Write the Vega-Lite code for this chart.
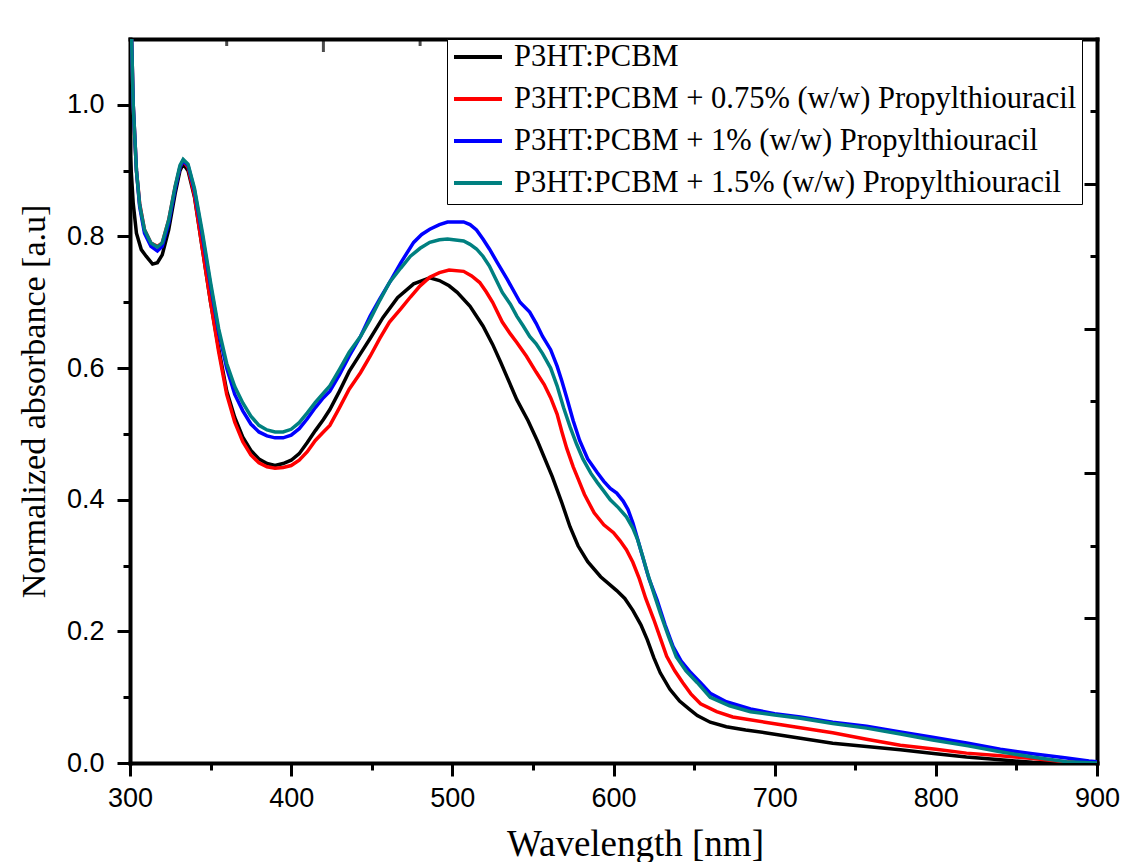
{
  "$schema": "https://vega.github.io/schema/vega-lite/v6.json",
  "width": 967,
  "height": 724,
  "autosize": {"type": "none"},
  "padding": {"left": 130, "top": 39, "right": 24, "bottom": 99},
  "background": "white",
  "config": {
    "font": "Liberation Serif",
    "view": {"stroke": null},
    "axis": {
      "grid": false,
      "domainColor": "black",
      "domainWidth": 4,
      "domainCap": "square",
      "tickColor": "black",
      "tickWidth": 3,
      "labelFont": "Liberation Sans",
      "labelFontSize": 27,
      "labelColor": "black",
      "labelFlush": false,
      "titleFont": "Liberation Serif",
      "titleFontWeight": "normal",
      "titleFontSize": 35,
      "titleColor": "black"
    },
    "legend": {
      "labelFont": "Liberation Serif"
    }
  },
  "datasets": {
    "topTicks": [
      {"wavelength": 360, "tick": "minor"},
      {"wavelength": 420, "tick": "major"},
      {"wavelength": 480, "tick": "minor"},
      {"wavelength": 540, "tick": "major"},
      {"wavelength": 600, "tick": "minor"},
      {"wavelength": 660, "tick": "major"},
      {"wavelength": 720, "tick": "minor"},
      {"wavelength": 780, "tick": "major"},
      {"wavelength": 840, "tick": "minor"}
    ]
  },
  "data": {
    "values": [
      {"sample": "P3HT:PCBM", "wavelength": 300, "absorbance": 0.93},
      {"sample": "P3HT:PCBM", "wavelength": 302, "absorbance": 0.85},
      {"sample": "P3HT:PCBM", "wavelength": 304, "absorbance": 0.805},
      {"sample": "P3HT:PCBM", "wavelength": 307, "absorbance": 0.78},
      {"sample": "P3HT:PCBM", "wavelength": 310, "absorbance": 0.77},
      {"sample": "P3HT:PCBM", "wavelength": 314, "absorbance": 0.758},
      {"sample": "P3HT:PCBM", "wavelength": 317, "absorbance": 0.76},
      {"sample": "P3HT:PCBM", "wavelength": 320, "absorbance": 0.772},
      {"sample": "P3HT:PCBM", "wavelength": 324, "absorbance": 0.81},
      {"sample": "P3HT:PCBM", "wavelength": 328, "absorbance": 0.865},
      {"sample": "P3HT:PCBM", "wavelength": 331, "absorbance": 0.9},
      {"sample": "P3HT:PCBM", "wavelength": 333, "absorbance": 0.91},
      {"sample": "P3HT:PCBM", "wavelength": 336, "absorbance": 0.9},
      {"sample": "P3HT:PCBM", "wavelength": 340, "absorbance": 0.86},
      {"sample": "P3HT:PCBM", "wavelength": 345, "absorbance": 0.78},
      {"sample": "P3HT:PCBM", "wavelength": 350, "absorbance": 0.7},
      {"sample": "P3HT:PCBM", "wavelength": 355, "absorbance": 0.63},
      {"sample": "P3HT:PCBM", "wavelength": 360, "absorbance": 0.565},
      {"sample": "P3HT:PCBM", "wavelength": 365, "absorbance": 0.525},
      {"sample": "P3HT:PCBM", "wavelength": 370, "absorbance": 0.495},
      {"sample": "P3HT:PCBM", "wavelength": 375, "absorbance": 0.475},
      {"sample": "P3HT:PCBM", "wavelength": 380, "absorbance": 0.462},
      {"sample": "P3HT:PCBM", "wavelength": 385, "absorbance": 0.455},
      {"sample": "P3HT:PCBM", "wavelength": 390, "absorbance": 0.452},
      {"sample": "P3HT:PCBM", "wavelength": 395, "absorbance": 0.455},
      {"sample": "P3HT:PCBM", "wavelength": 400, "absorbance": 0.46},
      {"sample": "P3HT:PCBM", "wavelength": 405, "absorbance": 0.47},
      {"sample": "P3HT:PCBM", "wavelength": 410, "absorbance": 0.487},
      {"sample": "P3HT:PCBM", "wavelength": 415, "absorbance": 0.505},
      {"sample": "P3HT:PCBM", "wavelength": 420, "absorbance": 0.522},
      {"sample": "P3HT:PCBM", "wavelength": 424, "absorbance": 0.537},
      {"sample": "P3HT:PCBM", "wavelength": 430, "absorbance": 0.565},
      {"sample": "P3HT:PCBM", "wavelength": 436, "absorbance": 0.595},
      {"sample": "P3HT:PCBM", "wavelength": 443, "absorbance": 0.622},
      {"sample": "P3HT:PCBM", "wavelength": 449, "absorbance": 0.645},
      {"sample": "P3HT:PCBM", "wavelength": 457, "absorbance": 0.677},
      {"sample": "P3HT:PCBM", "wavelength": 466, "absorbance": 0.707},
      {"sample": "P3HT:PCBM", "wavelength": 476, "absorbance": 0.728},
      {"sample": "P3HT:PCBM", "wavelength": 486, "absorbance": 0.737},
      {"sample": "P3HT:PCBM", "wavelength": 492, "absorbance": 0.733},
      {"sample": "P3HT:PCBM", "wavelength": 498, "absorbance": 0.725},
      {"sample": "P3HT:PCBM", "wavelength": 503, "absorbance": 0.715},
      {"sample": "P3HT:PCBM", "wavelength": 511, "absorbance": 0.694},
      {"sample": "P3HT:PCBM", "wavelength": 519, "absorbance": 0.664},
      {"sample": "P3HT:PCBM", "wavelength": 525, "absorbance": 0.636},
      {"sample": "P3HT:PCBM", "wavelength": 530, "absorbance": 0.609},
      {"sample": "P3HT:PCBM", "wavelength": 540, "absorbance": 0.552},
      {"sample": "P3HT:PCBM", "wavelength": 547, "absorbance": 0.52},
      {"sample": "P3HT:PCBM", "wavelength": 553, "absorbance": 0.488},
      {"sample": "P3HT:PCBM", "wavelength": 562, "absorbance": 0.435},
      {"sample": "P3HT:PCBM", "wavelength": 568, "absorbance": 0.395},
      {"sample": "P3HT:PCBM", "wavelength": 573, "absorbance": 0.359},
      {"sample": "P3HT:PCBM", "wavelength": 578, "absorbance": 0.33},
      {"sample": "P3HT:PCBM", "wavelength": 584, "absorbance": 0.306},
      {"sample": "P3HT:PCBM", "wavelength": 592, "absorbance": 0.283},
      {"sample": "P3HT:PCBM", "wavelength": 602, "absorbance": 0.262},
      {"sample": "P3HT:PCBM", "wavelength": 607, "absorbance": 0.25},
      {"sample": "P3HT:PCBM", "wavelength": 612, "absorbance": 0.232},
      {"sample": "P3HT:PCBM", "wavelength": 617, "absorbance": 0.21},
      {"sample": "P3HT:PCBM", "wavelength": 621, "absorbance": 0.187},
      {"sample": "P3HT:PCBM", "wavelength": 625, "absorbance": 0.16},
      {"sample": "P3HT:PCBM", "wavelength": 629, "absorbance": 0.137},
      {"sample": "P3HT:PCBM", "wavelength": 635, "absorbance": 0.112},
      {"sample": "P3HT:PCBM", "wavelength": 641, "absorbance": 0.094},
      {"sample": "P3HT:PCBM", "wavelength": 647, "absorbance": 0.082},
      {"sample": "P3HT:PCBM", "wavelength": 652, "absorbance": 0.072},
      {"sample": "P3HT:PCBM", "wavelength": 660, "absorbance": 0.062},
      {"sample": "P3HT:PCBM", "wavelength": 670, "absorbance": 0.055},
      {"sample": "P3HT:PCBM", "wavelength": 682, "absorbance": 0.05},
      {"sample": "P3HT:PCBM", "wavelength": 694, "absorbance": 0.046},
      {"sample": "P3HT:PCBM", "wavelength": 715, "absorbance": 0.038},
      {"sample": "P3HT:PCBM", "wavelength": 736, "absorbance": 0.03},
      {"sample": "P3HT:PCBM", "wavelength": 757, "absorbance": 0.025},
      {"sample": "P3HT:PCBM", "wavelength": 778, "absorbance": 0.02},
      {"sample": "P3HT:PCBM", "wavelength": 800, "absorbance": 0.014},
      {"sample": "P3HT:PCBM", "wavelength": 819, "absorbance": 0.009},
      {"sample": "P3HT:PCBM", "wavelength": 840, "absorbance": 0.005},
      {"sample": "P3HT:PCBM", "wavelength": 860, "absorbance": 0.001},
      {"sample": "P3HT:PCBM", "wavelength": 880, "absorbance": 0},
      {"sample": "P3HT:PCBM", "wavelength": 900, "absorbance": 0},

      {"sample": "P3HT:PCBM + 0.75% (w/w) Propylthiouracil", "wavelength": 300, "absorbance": 1.2},
      {"sample": "P3HT:PCBM + 0.75% (w/w) Propylthiouracil", "wavelength": 302, "absorbance": 1.0},
      {"sample": "P3HT:PCBM + 0.75% (w/w) Propylthiouracil", "wavelength": 304, "absorbance": 0.9},
      {"sample": "P3HT:PCBM + 0.75% (w/w) Propylthiouracil", "wavelength": 306, "absorbance": 0.85},
      {"sample": "P3HT:PCBM + 0.75% (w/w) Propylthiouracil", "wavelength": 309, "absorbance": 0.81},
      {"sample": "P3HT:PCBM + 0.75% (w/w) Propylthiouracil", "wavelength": 313, "absorbance": 0.79},
      {"sample": "P3HT:PCBM + 0.75% (w/w) Propylthiouracil", "wavelength": 317, "absorbance": 0.785},
      {"sample": "P3HT:PCBM + 0.75% (w/w) Propylthiouracil", "wavelength": 320, "absorbance": 0.79},
      {"sample": "P3HT:PCBM + 0.75% (w/w) Propylthiouracil", "wavelength": 324, "absorbance": 0.825},
      {"sample": "P3HT:PCBM + 0.75% (w/w) Propylthiouracil", "wavelength": 328, "absorbance": 0.875},
      {"sample": "P3HT:PCBM + 0.75% (w/w) Propylthiouracil", "wavelength": 331, "absorbance": 0.905},
      {"sample": "P3HT:PCBM + 0.75% (w/w) Propylthiouracil", "wavelength": 333, "absorbance": 0.915},
      {"sample": "P3HT:PCBM + 0.75% (w/w) Propylthiouracil", "wavelength": 336, "absorbance": 0.905},
      {"sample": "P3HT:PCBM + 0.75% (w/w) Propylthiouracil", "wavelength": 340, "absorbance": 0.862},
      {"sample": "P3HT:PCBM + 0.75% (w/w) Propylthiouracil", "wavelength": 345, "absorbance": 0.78},
      {"sample": "P3HT:PCBM + 0.75% (w/w) Propylthiouracil", "wavelength": 350, "absorbance": 0.7},
      {"sample": "P3HT:PCBM + 0.75% (w/w) Propylthiouracil", "wavelength": 355, "absorbance": 0.625},
      {"sample": "P3HT:PCBM + 0.75% (w/w) Propylthiouracil", "wavelength": 360, "absorbance": 0.56},
      {"sample": "P3HT:PCBM + 0.75% (w/w) Propylthiouracil", "wavelength": 365, "absorbance": 0.518},
      {"sample": "P3HT:PCBM + 0.75% (w/w) Propylthiouracil", "wavelength": 370, "absorbance": 0.488},
      {"sample": "P3HT:PCBM + 0.75% (w/w) Propylthiouracil", "wavelength": 375, "absorbance": 0.468},
      {"sample": "P3HT:PCBM + 0.75% (w/w) Propylthiouracil", "wavelength": 380, "absorbance": 0.456},
      {"sample": "P3HT:PCBM + 0.75% (w/w) Propylthiouracil", "wavelength": 385, "absorbance": 0.45},
      {"sample": "P3HT:PCBM + 0.75% (w/w) Propylthiouracil", "wavelength": 390, "absorbance": 0.448},
      {"sample": "P3HT:PCBM + 0.75% (w/w) Propylthiouracil", "wavelength": 395, "absorbance": 0.449},
      {"sample": "P3HT:PCBM + 0.75% (w/w) Propylthiouracil", "wavelength": 400, "absorbance": 0.452},
      {"sample": "P3HT:PCBM + 0.75% (w/w) Propylthiouracil", "wavelength": 405, "absorbance": 0.46},
      {"sample": "P3HT:PCBM + 0.75% (w/w) Propylthiouracil", "wavelength": 410, "absorbance": 0.473},
      {"sample": "P3HT:PCBM + 0.75% (w/w) Propylthiouracil", "wavelength": 415, "absorbance": 0.49},
      {"sample": "P3HT:PCBM + 0.75% (w/w) Propylthiouracil", "wavelength": 420, "absorbance": 0.503},
      {"sample": "P3HT:PCBM + 0.75% (w/w) Propylthiouracil", "wavelength": 424, "absorbance": 0.513},
      {"sample": "P3HT:PCBM + 0.75% (w/w) Propylthiouracil", "wavelength": 430, "absorbance": 0.54},
      {"sample": "P3HT:PCBM + 0.75% (w/w) Propylthiouracil", "wavelength": 436, "absorbance": 0.568},
      {"sample": "P3HT:PCBM + 0.75% (w/w) Propylthiouracil", "wavelength": 443, "absorbance": 0.593},
      {"sample": "P3HT:PCBM + 0.75% (w/w) Propylthiouracil", "wavelength": 449, "absorbance": 0.618},
      {"sample": "P3HT:PCBM + 0.75% (w/w) Propylthiouracil", "wavelength": 455, "absorbance": 0.645},
      {"sample": "P3HT:PCBM + 0.75% (w/w) Propylthiouracil", "wavelength": 461, "absorbance": 0.67},
      {"sample": "P3HT:PCBM + 0.75% (w/w) Propylthiouracil", "wavelength": 468, "absorbance": 0.69},
      {"sample": "P3HT:PCBM + 0.75% (w/w) Propylthiouracil", "wavelength": 474, "absorbance": 0.708},
      {"sample": "P3HT:PCBM + 0.75% (w/w) Propylthiouracil", "wavelength": 480, "absorbance": 0.725},
      {"sample": "P3HT:PCBM + 0.75% (w/w) Propylthiouracil", "wavelength": 486, "absorbance": 0.738},
      {"sample": "P3HT:PCBM + 0.75% (w/w) Propylthiouracil", "wavelength": 492, "absorbance": 0.745},
      {"sample": "P3HT:PCBM + 0.75% (w/w) Propylthiouracil", "wavelength": 498, "absorbance": 0.749},
      {"sample": "P3HT:PCBM + 0.75% (w/w) Propylthiouracil", "wavelength": 507, "absorbance": 0.747},
      {"sample": "P3HT:PCBM + 0.75% (w/w) Propylthiouracil", "wavelength": 512, "absorbance": 0.74},
      {"sample": "P3HT:PCBM + 0.75% (w/w) Propylthiouracil", "wavelength": 517, "absorbance": 0.73},
      {"sample": "P3HT:PCBM + 0.75% (w/w) Propylthiouracil", "wavelength": 521, "absorbance": 0.716},
      {"sample": "P3HT:PCBM + 0.75% (w/w) Propylthiouracil", "wavelength": 525, "absorbance": 0.7},
      {"sample": "P3HT:PCBM + 0.75% (w/w) Propylthiouracil", "wavelength": 531, "absorbance": 0.67},
      {"sample": "P3HT:PCBM + 0.75% (w/w) Propylthiouracil", "wavelength": 536, "absorbance": 0.652},
      {"sample": "P3HT:PCBM + 0.75% (w/w) Propylthiouracil", "wavelength": 540, "absorbance": 0.639},
      {"sample": "P3HT:PCBM + 0.75% (w/w) Propylthiouracil", "wavelength": 546, "absorbance": 0.618},
      {"sample": "P3HT:PCBM + 0.75% (w/w) Propylthiouracil", "wavelength": 552, "absorbance": 0.594},
      {"sample": "P3HT:PCBM + 0.75% (w/w) Propylthiouracil", "wavelength": 557, "absorbance": 0.575},
      {"sample": "P3HT:PCBM + 0.75% (w/w) Propylthiouracil", "wavelength": 561, "absorbance": 0.555},
      {"sample": "P3HT:PCBM + 0.75% (w/w) Propylthiouracil", "wavelength": 565, "absorbance": 0.53},
      {"sample": "P3HT:PCBM + 0.75% (w/w) Propylthiouracil", "wavelength": 568, "absorbance": 0.503},
      {"sample": "P3HT:PCBM + 0.75% (w/w) Propylthiouracil", "wavelength": 571, "absorbance": 0.478},
      {"sample": "P3HT:PCBM + 0.75% (w/w) Propylthiouracil", "wavelength": 575, "absorbance": 0.45},
      {"sample": "P3HT:PCBM + 0.75% (w/w) Propylthiouracil", "wavelength": 578, "absorbance": 0.432},
      {"sample": "P3HT:PCBM + 0.75% (w/w) Propylthiouracil", "wavelength": 582, "absorbance": 0.408},
      {"sample": "P3HT:PCBM + 0.75% (w/w) Propylthiouracil", "wavelength": 588, "absorbance": 0.38},
      {"sample": "P3HT:PCBM + 0.75% (w/w) Propylthiouracil", "wavelength": 594, "absorbance": 0.362},
      {"sample": "P3HT:PCBM + 0.75% (w/w) Propylthiouracil", "wavelength": 600, "absorbance": 0.35},
      {"sample": "P3HT:PCBM + 0.75% (w/w) Propylthiouracil", "wavelength": 604, "absorbance": 0.338},
      {"sample": "P3HT:PCBM + 0.75% (w/w) Propylthiouracil", "wavelength": 608, "absorbance": 0.324},
      {"sample": "P3HT:PCBM + 0.75% (w/w) Propylthiouracil", "wavelength": 612, "absorbance": 0.305},
      {"sample": "P3HT:PCBM + 0.75% (w/w) Propylthiouracil", "wavelength": 616, "absorbance": 0.28},
      {"sample": "P3HT:PCBM + 0.75% (w/w) Propylthiouracil", "wavelength": 620, "absorbance": 0.25},
      {"sample": "P3HT:PCBM + 0.75% (w/w) Propylthiouracil", "wavelength": 625, "absorbance": 0.218},
      {"sample": "P3HT:PCBM + 0.75% (w/w) Propylthiouracil", "wavelength": 629, "absorbance": 0.19},
      {"sample": "P3HT:PCBM + 0.75% (w/w) Propylthiouracil", "wavelength": 633, "absorbance": 0.162},
      {"sample": "P3HT:PCBM + 0.75% (w/w) Propylthiouracil", "wavelength": 638, "absorbance": 0.14},
      {"sample": "P3HT:PCBM + 0.75% (w/w) Propylthiouracil", "wavelength": 643, "absorbance": 0.122},
      {"sample": "P3HT:PCBM + 0.75% (w/w) Propylthiouracil", "wavelength": 648, "absorbance": 0.105},
      {"sample": "P3HT:PCBM + 0.75% (w/w) Propylthiouracil", "wavelength": 654, "absorbance": 0.09},
      {"sample": "P3HT:PCBM + 0.75% (w/w) Propylthiouracil", "wavelength": 664, "absorbance": 0.078},
      {"sample": "P3HT:PCBM + 0.75% (w/w) Propylthiouracil", "wavelength": 674, "absorbance": 0.07},
      {"sample": "P3HT:PCBM + 0.75% (w/w) Propylthiouracil", "wavelength": 694, "absorbance": 0.062},
      {"sample": "P3HT:PCBM + 0.75% (w/w) Propylthiouracil", "wavelength": 715, "absorbance": 0.054},
      {"sample": "P3HT:PCBM + 0.75% (w/w) Propylthiouracil", "wavelength": 736, "absorbance": 0.046},
      {"sample": "P3HT:PCBM + 0.75% (w/w) Propylthiouracil", "wavelength": 757, "absorbance": 0.036},
      {"sample": "P3HT:PCBM + 0.75% (w/w) Propylthiouracil", "wavelength": 778, "absorbance": 0.027},
      {"sample": "P3HT:PCBM + 0.75% (w/w) Propylthiouracil", "wavelength": 800, "absorbance": 0.021},
      {"sample": "P3HT:PCBM + 0.75% (w/w) Propylthiouracil", "wavelength": 819, "absorbance": 0.015},
      {"sample": "P3HT:PCBM + 0.75% (w/w) Propylthiouracil", "wavelength": 840, "absorbance": 0.011},
      {"sample": "P3HT:PCBM + 0.75% (w/w) Propylthiouracil", "wavelength": 860, "absorbance": 0.007},
      {"sample": "P3HT:PCBM + 0.75% (w/w) Propylthiouracil", "wavelength": 880, "absorbance": 0.002},
      {"sample": "P3HT:PCBM + 0.75% (w/w) Propylthiouracil", "wavelength": 900, "absorbance": 0},

      {"sample": "P3HT:PCBM + 1% (w/w) Propylthiouracil", "wavelength": 300, "absorbance": 1.2},
      {"sample": "P3HT:PCBM + 1% (w/w) Propylthiouracil", "wavelength": 302, "absorbance": 1.0},
      {"sample": "P3HT:PCBM + 1% (w/w) Propylthiouracil", "wavelength": 304, "absorbance": 0.9},
      {"sample": "P3HT:PCBM + 1% (w/w) Propylthiouracil", "wavelength": 306, "absorbance": 0.845},
      {"sample": "P3HT:PCBM + 1% (w/w) Propylthiouracil", "wavelength": 309, "absorbance": 0.805},
      {"sample": "P3HT:PCBM + 1% (w/w) Propylthiouracil", "wavelength": 313, "absorbance": 0.785},
      {"sample": "P3HT:PCBM + 1% (w/w) Propylthiouracil", "wavelength": 317, "absorbance": 0.778},
      {"sample": "P3HT:PCBM + 1% (w/w) Propylthiouracil", "wavelength": 320, "absorbance": 0.785},
      {"sample": "P3HT:PCBM + 1% (w/w) Propylthiouracil", "wavelength": 324, "absorbance": 0.82},
      {"sample": "P3HT:PCBM + 1% (w/w) Propylthiouracil", "wavelength": 328, "absorbance": 0.872},
      {"sample": "P3HT:PCBM + 1% (w/w) Propylthiouracil", "wavelength": 331, "absorbance": 0.905},
      {"sample": "P3HT:PCBM + 1% (w/w) Propylthiouracil", "wavelength": 333, "absorbance": 0.915},
      {"sample": "P3HT:PCBM + 1% (w/w) Propylthiouracil", "wavelength": 336, "absorbance": 0.908},
      {"sample": "P3HT:PCBM + 1% (w/w) Propylthiouracil", "wavelength": 340, "absorbance": 0.87},
      {"sample": "P3HT:PCBM + 1% (w/w) Propylthiouracil", "wavelength": 345, "absorbance": 0.8},
      {"sample": "P3HT:PCBM + 1% (w/w) Propylthiouracil", "wavelength": 350, "absorbance": 0.725},
      {"sample": "P3HT:PCBM + 1% (w/w) Propylthiouracil", "wavelength": 355, "absorbance": 0.655},
      {"sample": "P3HT:PCBM + 1% (w/w) Propylthiouracil", "wavelength": 360, "absorbance": 0.6},
      {"sample": "P3HT:PCBM + 1% (w/w) Propylthiouracil", "wavelength": 365, "absorbance": 0.56},
      {"sample": "P3HT:PCBM + 1% (w/w) Propylthiouracil", "wavelength": 370, "absorbance": 0.535},
      {"sample": "P3HT:PCBM + 1% (w/w) Propylthiouracil", "wavelength": 375, "absorbance": 0.515},
      {"sample": "P3HT:PCBM + 1% (w/w) Propylthiouracil", "wavelength": 380, "absorbance": 0.503},
      {"sample": "P3HT:PCBM + 1% (w/w) Propylthiouracil", "wavelength": 385, "absorbance": 0.497},
      {"sample": "P3HT:PCBM + 1% (w/w) Propylthiouracil", "wavelength": 390, "absorbance": 0.494},
      {"sample": "P3HT:PCBM + 1% (w/w) Propylthiouracil", "wavelength": 395, "absorbance": 0.494},
      {"sample": "P3HT:PCBM + 1% (w/w) Propylthiouracil", "wavelength": 400, "absorbance": 0.498},
      {"sample": "P3HT:PCBM + 1% (w/w) Propylthiouracil", "wavelength": 405, "absorbance": 0.508},
      {"sample": "P3HT:PCBM + 1% (w/w) Propylthiouracil", "wavelength": 410, "absorbance": 0.523},
      {"sample": "P3HT:PCBM + 1% (w/w) Propylthiouracil", "wavelength": 415, "absorbance": 0.54},
      {"sample": "P3HT:PCBM + 1% (w/w) Propylthiouracil", "wavelength": 420, "absorbance": 0.555},
      {"sample": "P3HT:PCBM + 1% (w/w) Propylthiouracil", "wavelength": 424, "absorbance": 0.565},
      {"sample": "P3HT:PCBM + 1% (w/w) Propylthiouracil", "wavelength": 430, "absorbance": 0.59},
      {"sample": "P3HT:PCBM + 1% (w/w) Propylthiouracil", "wavelength": 436, "absorbance": 0.618},
      {"sample": "P3HT:PCBM + 1% (w/w) Propylthiouracil", "wavelength": 443, "absorbance": 0.648},
      {"sample": "P3HT:PCBM + 1% (w/w) Propylthiouracil", "wavelength": 449, "absorbance": 0.679},
      {"sample": "P3HT:PCBM + 1% (w/w) Propylthiouracil", "wavelength": 455, "absorbance": 0.705},
      {"sample": "P3HT:PCBM + 1% (w/w) Propylthiouracil", "wavelength": 461, "absorbance": 0.73},
      {"sample": "P3HT:PCBM + 1% (w/w) Propylthiouracil", "wavelength": 468, "absorbance": 0.76},
      {"sample": "P3HT:PCBM + 1% (w/w) Propylthiouracil", "wavelength": 476, "absorbance": 0.791},
      {"sample": "P3HT:PCBM + 1% (w/w) Propylthiouracil", "wavelength": 481, "absorbance": 0.803},
      {"sample": "P3HT:PCBM + 1% (w/w) Propylthiouracil", "wavelength": 486, "absorbance": 0.811},
      {"sample": "P3HT:PCBM + 1% (w/w) Propylthiouracil", "wavelength": 492, "absorbance": 0.818},
      {"sample": "P3HT:PCBM + 1% (w/w) Propylthiouracil", "wavelength": 497, "absorbance": 0.822},
      {"sample": "P3HT:PCBM + 1% (w/w) Propylthiouracil", "wavelength": 507, "absorbance": 0.822},
      {"sample": "P3HT:PCBM + 1% (w/w) Propylthiouracil", "wavelength": 511, "absorbance": 0.818},
      {"sample": "P3HT:PCBM + 1% (w/w) Propylthiouracil", "wavelength": 515, "absorbance": 0.81},
      {"sample": "P3HT:PCBM + 1% (w/w) Propylthiouracil", "wavelength": 519, "absorbance": 0.796},
      {"sample": "P3HT:PCBM + 1% (w/w) Propylthiouracil", "wavelength": 523, "absorbance": 0.781},
      {"sample": "P3HT:PCBM + 1% (w/w) Propylthiouracil", "wavelength": 528, "absorbance": 0.76},
      {"sample": "P3HT:PCBM + 1% (w/w) Propylthiouracil", "wavelength": 534, "absorbance": 0.735},
      {"sample": "P3HT:PCBM + 1% (w/w) Propylthiouracil", "wavelength": 542, "absorbance": 0.7},
      {"sample": "P3HT:PCBM + 1% (w/w) Propylthiouracil", "wavelength": 548, "absorbance": 0.685},
      {"sample": "P3HT:PCBM + 1% (w/w) Propylthiouracil", "wavelength": 552, "absorbance": 0.668},
      {"sample": "P3HT:PCBM + 1% (w/w) Propylthiouracil", "wavelength": 556, "absorbance": 0.648},
      {"sample": "P3HT:PCBM + 1% (w/w) Propylthiouracil", "wavelength": 561, "absorbance": 0.628},
      {"sample": "P3HT:PCBM + 1% (w/w) Propylthiouracil", "wavelength": 565, "absorbance": 0.603},
      {"sample": "P3HT:PCBM + 1% (w/w) Propylthiouracil", "wavelength": 568, "absorbance": 0.58},
      {"sample": "P3HT:PCBM + 1% (w/w) Propylthiouracil", "wavelength": 571, "absorbance": 0.555},
      {"sample": "P3HT:PCBM + 1% (w/w) Propylthiouracil", "wavelength": 575, "absorbance": 0.52},
      {"sample": "P3HT:PCBM + 1% (w/w) Propylthiouracil", "wavelength": 579, "absorbance": 0.49},
      {"sample": "P3HT:PCBM + 1% (w/w) Propylthiouracil", "wavelength": 584, "absorbance": 0.462},
      {"sample": "P3HT:PCBM + 1% (w/w) Propylthiouracil", "wavelength": 590, "absorbance": 0.441},
      {"sample": "P3HT:PCBM + 1% (w/w) Propylthiouracil", "wavelength": 594, "absorbance": 0.428},
      {"sample": "P3HT:PCBM + 1% (w/w) Propylthiouracil", "wavelength": 598, "absorbance": 0.417},
      {"sample": "P3HT:PCBM + 1% (w/w) Propylthiouracil", "wavelength": 602, "absorbance": 0.41},
      {"sample": "P3HT:PCBM + 1% (w/w) Propylthiouracil", "wavelength": 606, "absorbance": 0.398},
      {"sample": "P3HT:PCBM + 1% (w/w) Propylthiouracil", "wavelength": 609, "absorbance": 0.385},
      {"sample": "P3HT:PCBM + 1% (w/w) Propylthiouracil", "wavelength": 612, "absorbance": 0.365},
      {"sample": "P3HT:PCBM + 1% (w/w) Propylthiouracil", "wavelength": 615, "absorbance": 0.34},
      {"sample": "P3HT:PCBM + 1% (w/w) Propylthiouracil", "wavelength": 618, "absorbance": 0.314},
      {"sample": "P3HT:PCBM + 1% (w/w) Propylthiouracil", "wavelength": 622, "absorbance": 0.28},
      {"sample": "P3HT:PCBM + 1% (w/w) Propylthiouracil", "wavelength": 627, "absorbance": 0.248},
      {"sample": "P3HT:PCBM + 1% (w/w) Propylthiouracil", "wavelength": 632, "absorbance": 0.21},
      {"sample": "P3HT:PCBM + 1% (w/w) Propylthiouracil", "wavelength": 637, "absorbance": 0.177},
      {"sample": "P3HT:PCBM + 1% (w/w) Propylthiouracil", "wavelength": 642, "absorbance": 0.155},
      {"sample": "P3HT:PCBM + 1% (w/w) Propylthiouracil", "wavelength": 648, "absorbance": 0.137},
      {"sample": "P3HT:PCBM + 1% (w/w) Propylthiouracil", "wavelength": 654, "absorbance": 0.122},
      {"sample": "P3HT:PCBM + 1% (w/w) Propylthiouracil", "wavelength": 660, "absorbance": 0.106},
      {"sample": "P3HT:PCBM + 1% (w/w) Propylthiouracil", "wavelength": 670, "absorbance": 0.093},
      {"sample": "P3HT:PCBM + 1% (w/w) Propylthiouracil", "wavelength": 685, "absorbance": 0.082},
      {"sample": "P3HT:PCBM + 1% (w/w) Propylthiouracil", "wavelength": 700, "absorbance": 0.075},
      {"sample": "P3HT:PCBM + 1% (w/w) Propylthiouracil", "wavelength": 716, "absorbance": 0.07},
      {"sample": "P3HT:PCBM + 1% (w/w) Propylthiouracil", "wavelength": 736, "absorbance": 0.062},
      {"sample": "P3HT:PCBM + 1% (w/w) Propylthiouracil", "wavelength": 757, "absorbance": 0.056},
      {"sample": "P3HT:PCBM + 1% (w/w) Propylthiouracil", "wavelength": 778, "absorbance": 0.047},
      {"sample": "P3HT:PCBM + 1% (w/w) Propylthiouracil", "wavelength": 798, "absorbance": 0.039},
      {"sample": "P3HT:PCBM + 1% (w/w) Propylthiouracil", "wavelength": 820, "absorbance": 0.03},
      {"sample": "P3HT:PCBM + 1% (w/w) Propylthiouracil", "wavelength": 840, "absorbance": 0.021},
      {"sample": "P3HT:PCBM + 1% (w/w) Propylthiouracil", "wavelength": 860, "absorbance": 0.014},
      {"sample": "P3HT:PCBM + 1% (w/w) Propylthiouracil", "wavelength": 880, "absorbance": 0.008},
      {"sample": "P3HT:PCBM + 1% (w/w) Propylthiouracil", "wavelength": 895, "absorbance": 0.003},
      {"sample": "P3HT:PCBM + 1% (w/w) Propylthiouracil", "wavelength": 900, "absorbance": 0.002},

      {"sample": "P3HT:PCBM + 1.5% (w/w) Propylthiouracil", "wavelength": 300, "absorbance": 1.2},
      {"sample": "P3HT:PCBM + 1.5% (w/w) Propylthiouracil", "wavelength": 302, "absorbance": 1.0},
      {"sample": "P3HT:PCBM + 1.5% (w/w) Propylthiouracil", "wavelength": 304, "absorbance": 0.9},
      {"sample": "P3HT:PCBM + 1.5% (w/w) Propylthiouracil", "wavelength": 306, "absorbance": 0.848},
      {"sample": "P3HT:PCBM + 1.5% (w/w) Propylthiouracil", "wavelength": 309, "absorbance": 0.81},
      {"sample": "P3HT:PCBM + 1.5% (w/w) Propylthiouracil", "wavelength": 313, "absorbance": 0.79},
      {"sample": "P3HT:PCBM + 1.5% (w/w) Propylthiouracil", "wavelength": 317, "absorbance": 0.784},
      {"sample": "P3HT:PCBM + 1.5% (w/w) Propylthiouracil", "wavelength": 320, "absorbance": 0.79},
      {"sample": "P3HT:PCBM + 1.5% (w/w) Propylthiouracil", "wavelength": 324, "absorbance": 0.825},
      {"sample": "P3HT:PCBM + 1.5% (w/w) Propylthiouracil", "wavelength": 328, "absorbance": 0.876},
      {"sample": "P3HT:PCBM + 1.5% (w/w) Propylthiouracil", "wavelength": 331, "absorbance": 0.908},
      {"sample": "P3HT:PCBM + 1.5% (w/w) Propylthiouracil", "wavelength": 333, "absorbance": 0.917},
      {"sample": "P3HT:PCBM + 1.5% (w/w) Propylthiouracil", "wavelength": 336, "absorbance": 0.91},
      {"sample": "P3HT:PCBM + 1.5% (w/w) Propylthiouracil", "wavelength": 340, "absorbance": 0.873},
      {"sample": "P3HT:PCBM + 1.5% (w/w) Propylthiouracil", "wavelength": 345, "absorbance": 0.805},
      {"sample": "P3HT:PCBM + 1.5% (w/w) Propylthiouracil", "wavelength": 350, "absorbance": 0.73},
      {"sample": "P3HT:PCBM + 1.5% (w/w) Propylthiouracil", "wavelength": 355, "absorbance": 0.66},
      {"sample": "P3HT:PCBM + 1.5% (w/w) Propylthiouracil", "wavelength": 360, "absorbance": 0.607},
      {"sample": "P3HT:PCBM + 1.5% (w/w) Propylthiouracil", "wavelength": 365, "absorbance": 0.572},
      {"sample": "P3HT:PCBM + 1.5% (w/w) Propylthiouracil", "wavelength": 370, "absorbance": 0.547},
      {"sample": "P3HT:PCBM + 1.5% (w/w) Propylthiouracil", "wavelength": 375, "absorbance": 0.527},
      {"sample": "P3HT:PCBM + 1.5% (w/w) Propylthiouracil", "wavelength": 380, "absorbance": 0.513},
      {"sample": "P3HT:PCBM + 1.5% (w/w) Propylthiouracil", "wavelength": 385, "absorbance": 0.506},
      {"sample": "P3HT:PCBM + 1.5% (w/w) Propylthiouracil", "wavelength": 390, "absorbance": 0.503},
      {"sample": "P3HT:PCBM + 1.5% (w/w) Propylthiouracil", "wavelength": 395, "absorbance": 0.503},
      {"sample": "P3HT:PCBM + 1.5% (w/w) Propylthiouracil", "wavelength": 400, "absorbance": 0.507},
      {"sample": "P3HT:PCBM + 1.5% (w/w) Propylthiouracil", "wavelength": 405, "absorbance": 0.517},
      {"sample": "P3HT:PCBM + 1.5% (w/w) Propylthiouracil", "wavelength": 410, "absorbance": 0.532},
      {"sample": "P3HT:PCBM + 1.5% (w/w) Propylthiouracil", "wavelength": 415, "absorbance": 0.548},
      {"sample": "P3HT:PCBM + 1.5% (w/w) Propylthiouracil", "wavelength": 420, "absorbance": 0.562},
      {"sample": "P3HT:PCBM + 1.5% (w/w) Propylthiouracil", "wavelength": 424, "absorbance": 0.573},
      {"sample": "P3HT:PCBM + 1.5% (w/w) Propylthiouracil", "wavelength": 430, "absorbance": 0.598},
      {"sample": "P3HT:PCBM + 1.5% (w/w) Propylthiouracil", "wavelength": 436, "absorbance": 0.624},
      {"sample": "P3HT:PCBM + 1.5% (w/w) Propylthiouracil", "wavelength": 443, "absorbance": 0.648},
      {"sample": "P3HT:PCBM + 1.5% (w/w) Propylthiouracil", "wavelength": 449, "absorbance": 0.674},
      {"sample": "P3HT:PCBM + 1.5% (w/w) Propylthiouracil", "wavelength": 455, "absorbance": 0.703},
      {"sample": "P3HT:PCBM + 1.5% (w/w) Propylthiouracil", "wavelength": 461, "absorbance": 0.73},
      {"sample": "P3HT:PCBM + 1.5% (w/w) Propylthiouracil", "wavelength": 468, "absorbance": 0.752},
      {"sample": "P3HT:PCBM + 1.5% (w/w) Propylthiouracil", "wavelength": 474, "absorbance": 0.77},
      {"sample": "P3HT:PCBM + 1.5% (w/w) Propylthiouracil", "wavelength": 480, "absorbance": 0.782},
      {"sample": "P3HT:PCBM + 1.5% (w/w) Propylthiouracil", "wavelength": 486, "absorbance": 0.791},
      {"sample": "P3HT:PCBM + 1.5% (w/w) Propylthiouracil", "wavelength": 492, "absorbance": 0.795},
      {"sample": "P3HT:PCBM + 1.5% (w/w) Propylthiouracil", "wavelength": 497, "absorbance": 0.796},
      {"sample": "P3HT:PCBM + 1.5% (w/w) Propylthiouracil", "wavelength": 507, "absorbance": 0.793},
      {"sample": "P3HT:PCBM + 1.5% (w/w) Propylthiouracil", "wavelength": 511, "absorbance": 0.788},
      {"sample": "P3HT:PCBM + 1.5% (w/w) Propylthiouracil", "wavelength": 515, "absorbance": 0.781},
      {"sample": "P3HT:PCBM + 1.5% (w/w) Propylthiouracil", "wavelength": 519, "absorbance": 0.77},
      {"sample": "P3HT:PCBM + 1.5% (w/w) Propylthiouracil", "wavelength": 523, "absorbance": 0.755},
      {"sample": "P3HT:PCBM + 1.5% (w/w) Propylthiouracil", "wavelength": 527, "absorbance": 0.735},
      {"sample": "P3HT:PCBM + 1.5% (w/w) Propylthiouracil", "wavelength": 531, "absorbance": 0.715},
      {"sample": "P3HT:PCBM + 1.5% (w/w) Propylthiouracil", "wavelength": 536, "absorbance": 0.697},
      {"sample": "P3HT:PCBM + 1.5% (w/w) Propylthiouracil", "wavelength": 540, "absorbance": 0.679},
      {"sample": "P3HT:PCBM + 1.5% (w/w) Propylthiouracil", "wavelength": 544, "absorbance": 0.664},
      {"sample": "P3HT:PCBM + 1.5% (w/w) Propylthiouracil", "wavelength": 548, "absorbance": 0.648},
      {"sample": "P3HT:PCBM + 1.5% (w/w) Propylthiouracil", "wavelength": 552, "absorbance": 0.637},
      {"sample": "P3HT:PCBM + 1.5% (w/w) Propylthiouracil", "wavelength": 556, "absorbance": 0.622},
      {"sample": "P3HT:PCBM + 1.5% (w/w) Propylthiouracil", "wavelength": 561, "absorbance": 0.6},
      {"sample": "P3HT:PCBM + 1.5% (w/w) Propylthiouracil", "wavelength": 565, "absorbance": 0.573},
      {"sample": "P3HT:PCBM + 1.5% (w/w) Propylthiouracil", "wavelength": 569, "absorbance": 0.54},
      {"sample": "P3HT:PCBM + 1.5% (w/w) Propylthiouracil", "wavelength": 573, "absorbance": 0.511},
      {"sample": "P3HT:PCBM + 1.5% (w/w) Propylthiouracil", "wavelength": 577, "absorbance": 0.485},
      {"sample": "P3HT:PCBM + 1.5% (w/w) Propylthiouracil", "wavelength": 581, "absorbance": 0.462},
      {"sample": "P3HT:PCBM + 1.5% (w/w) Propylthiouracil", "wavelength": 586, "absorbance": 0.44},
      {"sample": "P3HT:PCBM + 1.5% (w/w) Propylthiouracil", "wavelength": 590, "absorbance": 0.426},
      {"sample": "P3HT:PCBM + 1.5% (w/w) Propylthiouracil", "wavelength": 594, "absorbance": 0.413},
      {"sample": "P3HT:PCBM + 1.5% (w/w) Propylthiouracil", "wavelength": 598, "absorbance": 0.4},
      {"sample": "P3HT:PCBM + 1.5% (w/w) Propylthiouracil", "wavelength": 603, "absorbance": 0.388},
      {"sample": "P3HT:PCBM + 1.5% (w/w) Propylthiouracil", "wavelength": 608, "absorbance": 0.374},
      {"sample": "P3HT:PCBM + 1.5% (w/w) Propylthiouracil", "wavelength": 612, "absorbance": 0.357},
      {"sample": "P3HT:PCBM + 1.5% (w/w) Propylthiouracil", "wavelength": 615, "absorbance": 0.339},
      {"sample": "P3HT:PCBM + 1.5% (w/w) Propylthiouracil", "wavelength": 618, "absorbance": 0.315},
      {"sample": "P3HT:PCBM + 1.5% (w/w) Propylthiouracil", "wavelength": 621, "absorbance": 0.289},
      {"sample": "P3HT:PCBM + 1.5% (w/w) Propylthiouracil", "wavelength": 625, "absorbance": 0.258},
      {"sample": "P3HT:PCBM + 1.5% (w/w) Propylthiouracil", "wavelength": 629, "absorbance": 0.228},
      {"sample": "P3HT:PCBM + 1.5% (w/w) Propylthiouracil", "wavelength": 634, "absorbance": 0.193},
      {"sample": "P3HT:PCBM + 1.5% (w/w) Propylthiouracil", "wavelength": 639, "absorbance": 0.161},
      {"sample": "P3HT:PCBM + 1.5% (w/w) Propylthiouracil", "wavelength": 645, "absorbance": 0.14},
      {"sample": "P3HT:PCBM + 1.5% (w/w) Propylthiouracil", "wavelength": 652, "absorbance": 0.122},
      {"sample": "P3HT:PCBM + 1.5% (w/w) Propylthiouracil", "wavelength": 660, "absorbance": 0.1},
      {"sample": "P3HT:PCBM + 1.5% (w/w) Propylthiouracil", "wavelength": 672, "absorbance": 0.087},
      {"sample": "P3HT:PCBM + 1.5% (w/w) Propylthiouracil", "wavelength": 685, "absorbance": 0.078},
      {"sample": "P3HT:PCBM + 1.5% (w/w) Propylthiouracil", "wavelength": 700, "absorbance": 0.073},
      {"sample": "P3HT:PCBM + 1.5% (w/w) Propylthiouracil", "wavelength": 716, "absorbance": 0.068},
      {"sample": "P3HT:PCBM + 1.5% (w/w) Propylthiouracil", "wavelength": 736, "absorbance": 0.06},
      {"sample": "P3HT:PCBM + 1.5% (w/w) Propylthiouracil", "wavelength": 757, "absorbance": 0.053},
      {"sample": "P3HT:PCBM + 1.5% (w/w) Propylthiouracil", "wavelength": 778, "absorbance": 0.044},
      {"sample": "P3HT:PCBM + 1.5% (w/w) Propylthiouracil", "wavelength": 798, "absorbance": 0.035},
      {"sample": "P3HT:PCBM + 1.5% (w/w) Propylthiouracil", "wavelength": 820, "absorbance": 0.026},
      {"sample": "P3HT:PCBM + 1.5% (w/w) Propylthiouracil", "wavelength": 840, "absorbance": 0.017},
      {"sample": "P3HT:PCBM + 1.5% (w/w) Propylthiouracil", "wavelength": 860, "absorbance": 0.009},
      {"sample": "P3HT:PCBM + 1.5% (w/w) Propylthiouracil", "wavelength": 881, "absorbance": 0.002},
      {"sample": "P3HT:PCBM + 1.5% (w/w) Propylthiouracil", "wavelength": 900, "absorbance": 0}
    ]
  },
  "layer": [
    {
      "mark": {"type": "line", "strokeWidth": 3.5, "clip": true},
      "encoding": {
        "x": {
          "field": "wavelength",
          "type": "quantitative",
          "scale": {"domain": [300, 900], "nice": false, "zero": false},
          "axis": {
            "orient": "bottom",
            "title": "Wavelength [nm]",
            "titleFontSize": 37,
            "titleX": 505,
            "titleAlign": "center",
            "values": [300, 350, 400, 450, 500, 550, 600, 650, 700, 750, 800, 850, 900],
            "labelExpr": "datum.value % 100 === 0 ? datum.label : ''",
            "tickSize": {"condition": {"test": "datum.value % 100 === 0", "value": 13}, "value": 7},
            "labelPadding": 9,
            "titlePadding": 15
          }
        },
        "y": {
          "field": "absorbance",
          "type": "quantitative",
          "scale": {"domain": [0, 1.1], "nice": false},
          "axis": {
            "orient": "left",
            "title": "Normalized absorbance [a.u]",
            "titleFontSize": 34,
            "values": [0, 0.1, 0.2, 0.3, 0.4, 0.5, 0.6, 0.7, 0.8, 0.9, 1.0],
            "labelExpr": "round(datum.value * 10) % 2 === 0 ? format(datum.value, '.1f') : ''",
            "tickSize": {"condition": {"test": "round(datum.value * 10) % 2 === 0", "value": 13}, "value": 7},
            "labelPadding": 13,
            "titlePadding": 15
          }
        },
        "color": {
          "field": "sample",
          "type": "nominal",
          "scale": {
            "domain": [
              "P3HT:PCBM",
              "P3HT:PCBM + 0.75% (w/w) Propylthiouracil",
              "P3HT:PCBM + 1% (w/w) Propylthiouracil",
              "P3HT:PCBM + 1.5% (w/w) Propylthiouracil"
            ],
            "range": ["#000000", "#ff0000", "#0000ff", "#008080"]
          },
          "legend": {
            "title": null,
            "orient": "none",
            "legendX": 317,
            "legendY": 0,
            "strokeColor": "black",
            "fillColor": "white",
            "padding": 5,
            "rowPadding": 11,
            "clipHeight": 26,
            "labelFont": "Liberation Serif",
            "labelFontSize": 30.5,
            "labelColor": "black",
            "labelLimit": 1000,
            "symbolType": "stroke",
            "symbolSize": 2304,
            "symbolStrokeWidth": 4,
            "labelOffset": 10
          }
        }
      }
    },
    {
      "mark": {"type": "line", "opacity": 0, "clip": true},
      "encoding": {
        "x": {
          "field": "wavelength",
          "type": "quantitative",
          "axis": {
            "orient": "top",
            "title": null,
            "labels": false,
            "ticks": false,
            "values": [360, 420, 480, 540, 600, 660, 720, 780, 840]
          }
        },
        "y": {
          "field": "absorbance",
          "type": "quantitative",
          "axis": {
            "orient": "right",
            "title": null,
            "labels": false,
            "values": [0, 0.11, 0.22, 0.33, 0.44, 0.55, 0.66, 0.77, 0.88, 0.99, 1.1],
            "tickSize": {"condition": {"test": "round(datum.value / 0.11) % 2 === 0", "value": -13}, "value": -7}
          }
        },
        "detail": {"field": "sample"}
      }
    },
    {
      "data": {"name": "topTicks"},
      "transform": [{"filter": "datum.tick === 'major'"}],
      "mark": {"type": "tick", "orient": "vertical", "clip": false, "thickness": 3, "color": "black"},
      "encoding": {
        "x": {"field": "wavelength", "type": "quantitative", "axis": null},
        "y": {"datum": 1.0901, "type": "quantitative", "axis": null},
        "size": {"value": 13}
      }
    },
    {
      "data": {"name": "topTicks"},
      "transform": [{"filter": "datum.tick === 'minor'"}],
      "mark": {"type": "tick", "orient": "vertical", "clip": false, "thickness": 3, "color": "black"},
      "encoding": {
        "x": {"field": "wavelength", "type": "quantitative", "axis": null},
        "y": {"datum": 1.0947, "type": "quantitative", "axis": null},
        "size": {"value": 7}
      }
    }
  ],
  "resolve": {"axis": {"x": "independent", "y": "independent"}}
}
